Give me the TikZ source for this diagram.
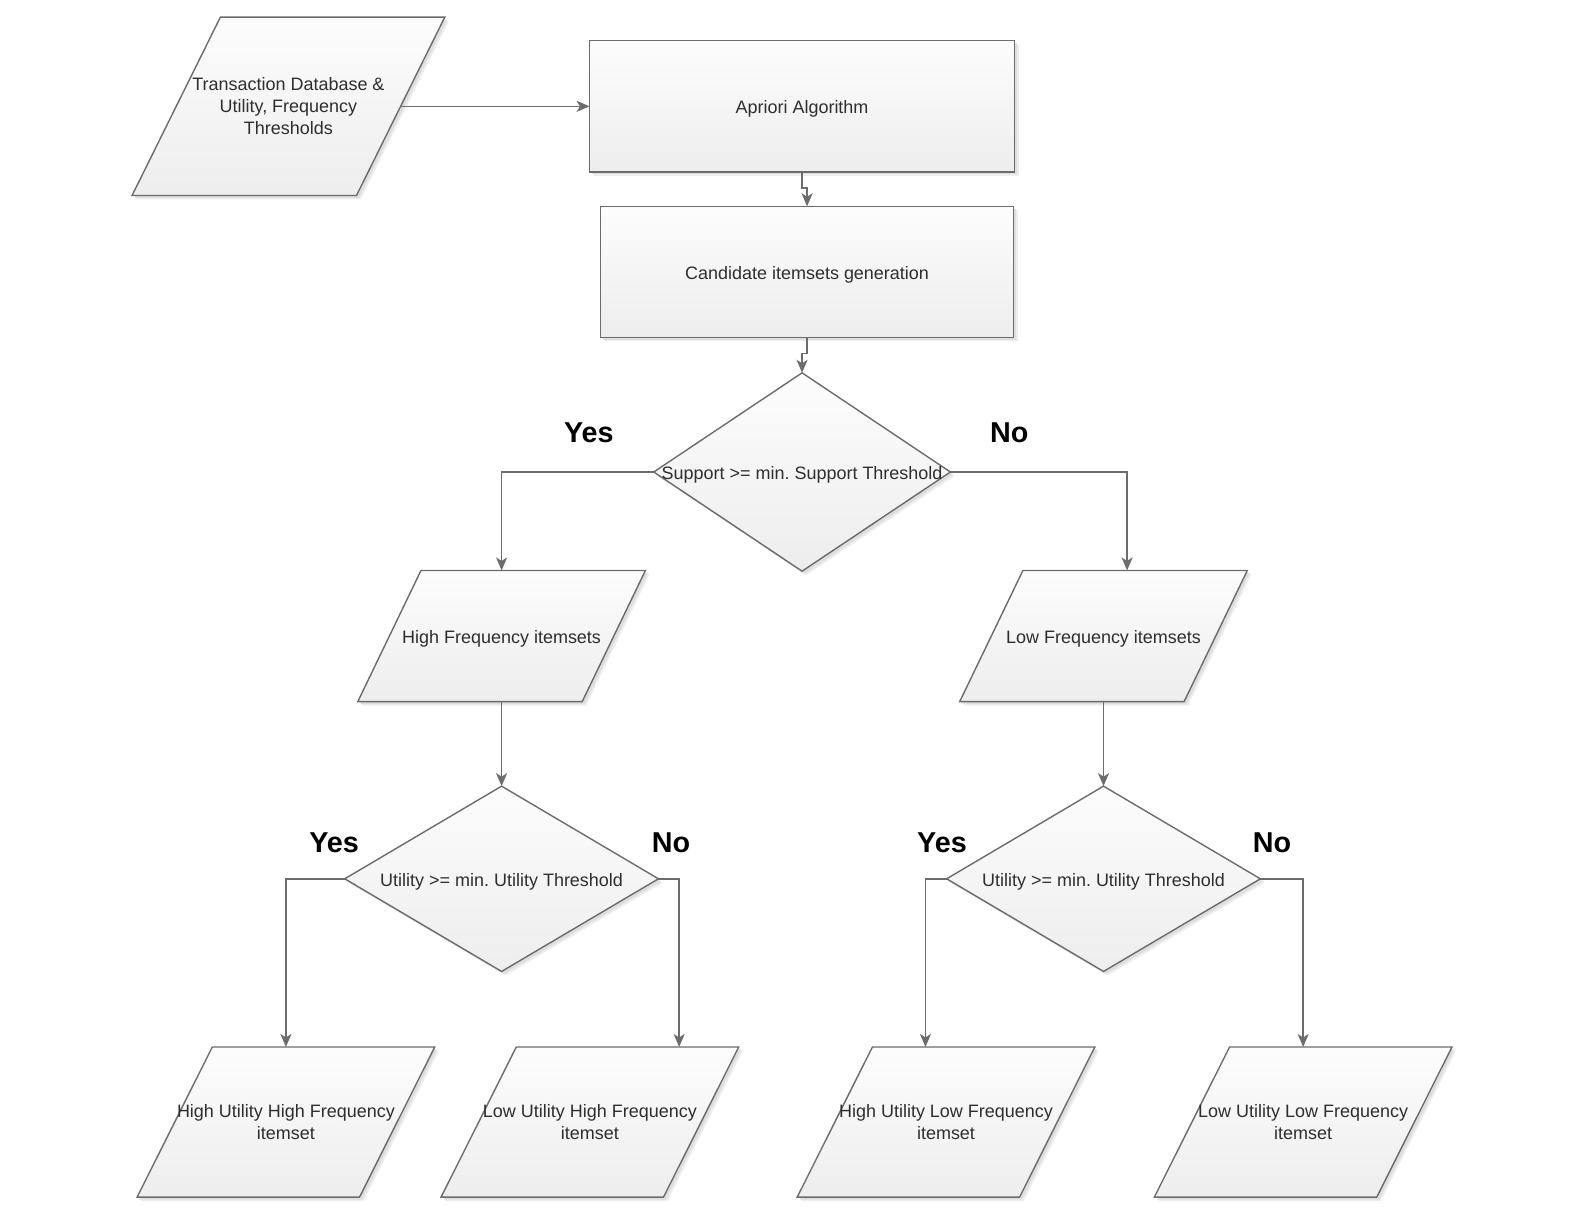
\documentclass[tikz,border=0pt]{standalone}
\usepackage{fontspec}
\setmainfont{Liberation Sans}
\usetikzlibrary{arrows.meta,calc}
\pgfdeclarelayer{background}
\pgfsetlayers{background,main}
\definecolor{edgegray}{HTML}{6C6C6C}
\definecolor{inkgray}{HTML}{2E2E2E}
\frenchspacing

\tikzset{
  shapebox/.style 2 args={rectangle, draw=none, inner sep=0pt,
    minimum width=#1*0.02cm, minimum height=#2*0.02cm,
    align=center, text=inkgray, font=\fontsize{10.2}{12.5}\selectfont},
  oneline/.style={text height=0.83em, text depth=0pt},
  outline/.style={draw=edgegray, line width=0.8pt, top color=black!1, bottom color=black!7},
  softshadow/.style={fill=black!7, draw=none},
  hardshadow/.style={fill=black!13, draw=none},
  link/.style={draw=edgegray, line width=0.8pt,
    -{Stealth[length=2.6mm, width=2.2mm, inset=0.7mm]}},
  answer/.style={font=\fontsize{16.3}{19}\selectfont\bfseries, text=black, inner sep=0pt}
}

% parallelogram leaning right: name, horizontal slant in px
\newcommand\flowpara[2]{%
  \begin{pgfonlayer}{background}
    \path[softshadow] ([shift={(4+#2,4)}]#1.north west) -- ([shift={(4,4)}]#1.north east)
      -- ([shift={(4-#2,4)}]#1.south east) -- ([shift={(4,4)}]#1.south west) -- cycle;
    \path[hardshadow] ([shift={(2.5+#2,2.5)}]#1.north west) -- ([shift={(2.5,2.5)}]#1.north east)
      -- ([shift={(2.5-#2,2.5)}]#1.south east) -- ([shift={(2.5,2.5)}]#1.south west) -- cycle;
    \path[outline] ([shift={(#2,0)}]#1.north west) -- (#1.north east)
      -- ([shift={(-#2,0)}]#1.south east) -- (#1.south west) -- cycle;
  \end{pgfonlayer}}

% decision diamond spanning the node box
\newcommand\flowdiamond[1]{%
  \begin{pgfonlayer}{background}
    \path[softshadow] ([shift={(4,4)}]#1.north) -- ([shift={(4,4)}]#1.east)
      -- ([shift={(4,4)}]#1.south) -- ([shift={(4,4)}]#1.west) -- cycle;
    \path[hardshadow] ([shift={(2.5,2.5)}]#1.north) -- ([shift={(2.5,2.5)}]#1.east)
      -- ([shift={(2.5,2.5)}]#1.south) -- ([shift={(2.5,2.5)}]#1.west) -- cycle;
    \path[outline] (#1.north) -- (#1.east) -- (#1.south) -- (#1.west) -- cycle;
  \end{pgfonlayer}}

% process rectangle
\newcommand\flowrect[1]{%
  \begin{pgfonlayer}{background}
    \path[softshadow] ([shift={(4,4)}]#1.north west) rectangle ([shift={(4,4)}]#1.south east);
    \path[hardshadow] ([shift={(2.5,2.5)}]#1.north west) rectangle ([shift={(2.5,2.5)}]#1.south east);
    \path[outline] (#1.north west) rectangle (#1.south east);
  \end{pgfonlayer}}

\begin{document}
\begin{tikzpicture}[x=0.02cm, y=-0.02cm]
  \useasboundingbox (0,0) rectangle (1568,1203);

  % input and preprocessing
  \node[shapebox={311}{177}] (td) at (287.5,106)
    {Transaction Database \&\\Utility, Frequency\\Thresholds};
  \flowpara{td}{88}
  \node[shapebox={423}{130}, oneline] (ap) at (799.5,106) {Apriori Algorithm};
  \flowrect{ap}
  \node[shapebox={411}{130}, oneline] (cg) at (804.5,271) {Candidate itemsets generation};
  \flowrect{cg}

  % support test
  \node[shapebox={295}{197}, oneline] (d1) at (799.5,470.5) {Support >= min. Support Threshold};
  \flowdiamond{d1}
  \node[shapebox={286}{130}, oneline] (hf) at (500,634) {High Frequency itemsets};
  \flowpara{hf}{63}
  \node[shapebox={286}{130}, oneline] (lf) at (1100,634) {Low Frequency itemsets};
  \flowpara{lf}{63}

  % utility tests
  \node[shapebox={312}{184}, oneline] (d2) at (500,876) {Utility >= min. Utility Threshold};
  \flowdiamond{d2}
  \node[shapebox={312}{184}, oneline] (d3) at (1100,876) {Utility >= min. Utility Threshold};
  \flowdiamond{d3}

  % resulting itemset classes
  \node[shapebox={296}{149}] (b1) at (285,1118.5) {High Utility High Frequency\\itemset};
  \flowpara{b1}{75}
  \node[shapebox={296}{149}] (b2) at (588,1118.5) {Low Utility High Frequency\\itemset};
  \flowpara{b2}{75}
  \node[shapebox={296}{149}] (b3) at (943,1118.5) {High Utility Low Frequency\\itemset};
  \flowpara{b3}{75}
  \node[shapebox={296}{149}] (b4) at (1299,1118.5) {Low Utility Low Frequency\\itemset};
  \flowpara{b4}{75}

  % branch labels
  \node[answer] (y1) at (587,431) {Yes};
  \node[answer] (n1) at (1006,431) {No};
  \node[answer] (y2) at (333,840) {Yes};
  \node[answer] (n2) at (669,840) {No};
  \node[answer] (y3) at (939,840) {Yes};
  \node[answer] (n3) at (1268,840) {No};

  % connectors
  \draw[link] ([shift={(-44,0)}]td.east) -- (ap.west);
  \draw[link] (ap.south) -- ++(0,16) -| (cg.north);
  \draw[link] (cg.south) -- ++(0,16) -| (d1.north);
  \draw[link] (d1.west) -| (hf.north);
  \draw[link] (d1.east) -| ([shift={(23.5,0)}]lf.north);
  \draw[link] (hf.south) -- (d2.north);
  \draw[link] (lf.south) -- (d3.north);
  \draw[link] (d2.west) -| (b1.north);
  \draw[link] (d2.east) -| ([shift={(89,0)}]b2.north);
  \draw[link] (d3.west) -| ([shift={(-20.5,0)}]b3.north);
  \draw[link] (d3.east) -| (b4.north);
\end{tikzpicture}
\end{document}
